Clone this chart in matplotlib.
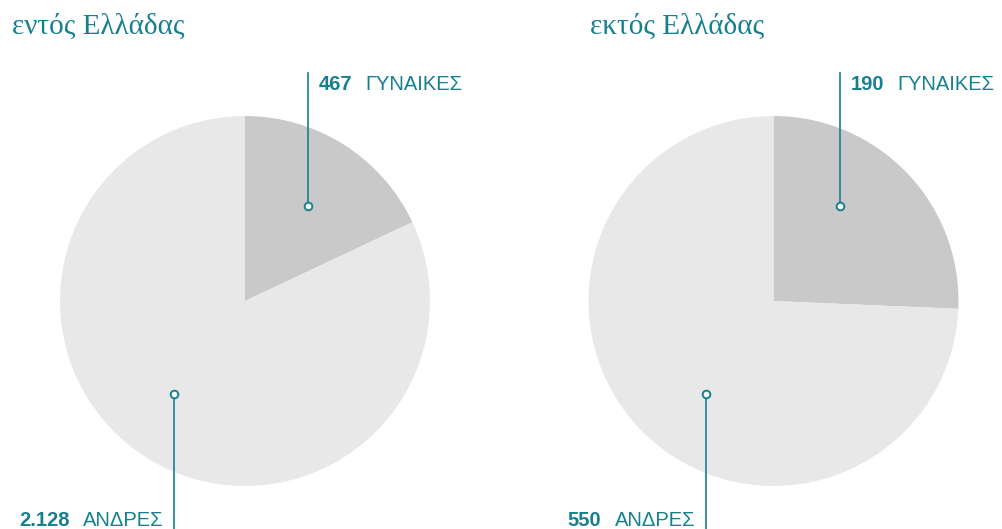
import matplotlib
matplotlib.use("Agg")
import matplotlib.pyplot as plt

# ---- data ----
titles = ["εντός Ελλάδας", "εκτός Ελλάδας"]
women = [467, 190]
men = [2128, 550]
women_labels = ["467", "190"]
men_labels = ["2.128", "550"]
women_text = "ΓΥΝΑΙΚΕΣ"
men_text = "ΑΝΔΡΕΣ"

# ---- style ----
TEAL = "#17808f"
C_WOMEN = "#c8c9c8"
C_MEN = "#e8e8e8"
W, H = 1002, 529

fig = plt.figure(figsize=(W / 100, H / 100), dpi=100)
ax = fig.add_axes([0, 0, 1, 1])

centers_x = [245, 773.5]
cy = H - 301
R = 185
title_x = [12, 590]
w_off = [63, 66.5]
m_off = [-70.5, -67]

for i in range(2):
    cx = centers_x[i]
    ax.pie([women[i], men[i]], colors=[C_WOMEN, C_MEN], startangle=90,
           counterclock=False, center=(cx, cy), radius=R,
           wedgeprops=dict(linewidth=0))

    ax.text(title_x[i], H - 34, titles[i], fontsize=21, color=TEAL,
            family="Liberation Serif", va="baseline", ha="left")

    # women annotation (top)
    mx, my = cx + w_off[i], H - 206
    top_y = H - 73
    ax.plot([mx, mx], [my, top_y], color=TEAL, lw=1.2, zorder=3)
    ax.plot(mx, my, "o", ms=5.5, mfc="white", mec=TEAL, mew=1.4, zorder=4)
    t1 = ax.text(mx + 11, H - 90, women_labels[i], fontsize=14.5, fontweight="bold",
                 color=TEAL, family="Liberation Sans", ha="left", va="baseline")
    ax.annotate(women_text, xy=(1, 0), xycoords=t1, xytext=(9.5, 0),
                textcoords="offset points", fontsize=14.5, color=TEAL,
                family="Liberation Sans", ha="left", va="bottom")

    # men annotation (bottom)
    mx2, my2 = cx + m_off[i], H - 394
    ax.plot([mx2, mx2], [my2, -5], color=TEAL, lw=1.2, zorder=3)
    ax.plot(mx2, my2, "o", ms=5.5, mfc="white", mec=TEAL, mew=1.4, zorder=4)
    t2 = ax.text(mx2 - 11.5, H - 526, men_text, fontsize=14.5, color=TEAL,
                 family="Liberation Sans", ha="right", va="baseline")
    ax.annotate(men_labels[i], xy=(0, 0), xycoords=t2, xytext=(-9.5, 0),
                textcoords="offset points", fontsize=14.5, fontweight="bold",
                color=TEAL, family="Liberation Sans", ha="right", va="bottom")

ax.set_xlim(0, W)
ax.set_ylim(0, H)
ax.set_aspect("equal")
ax.axis("off")

fig.savefig("out.png", dpi=100)
